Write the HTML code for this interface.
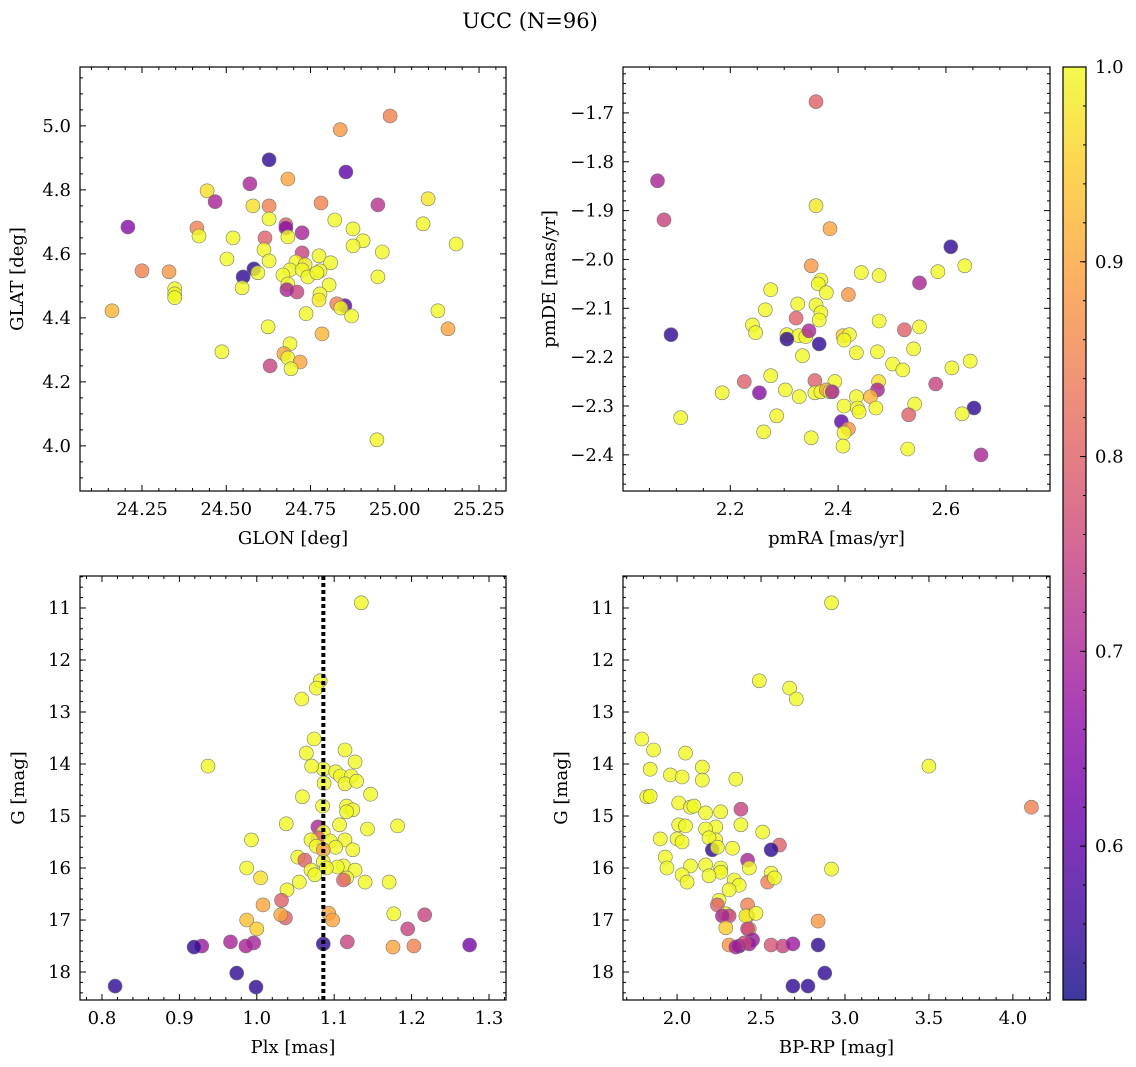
<!DOCTYPE html>
<html><head><meta charset="utf-8"><title>UCC (N=96)</title>
<style>html,body{margin:0;padding:0;background:#fff}svg{display:block;font-family:"DejaVu Serif","Liberation Serif",serif}</style>
</head><body>
<svg id="fig" width="1136" height="1067" viewBox="0 0 1136 1067" xmlns="http://www.w3.org/2000/svg">
<text x="530" y="28" text-anchor="middle" font-size="21">UCC (N=96)</text>
</svg>
<script>
// Panel 1: GLON vs GLAT
const p1X=[24.986,24.838,24.627,24.855,24.683,24.570,24.443,24.467,24.950,25.099,24.781,24.579,24.627,24.677,24.627,24.822,25.084,24.208,24.413,24.677,24.876,24.419,24.725,24.683,24.520,24.906,24.876,25.182,24.615,24.725,24.963,24.612,24.502,24.627,24.775,24.810,24.707,24.734,24.582,24.25,24.330,24.594,24.689,24.725,24.778,24.668,24.742,24.769,24.550,24.950,24.683,24.805,24.547,24.347,24.347,24.710,24.778,24.347,24.680,24.775,24.852,24.828,24.840,24.872,24.737,24.161,25.128,25.158,24.624,24.784,24.689,24.487,24.671,24.683,24.719,24.630,24.692,24.947];
const p1Y=[5.031,4.988,4.894,4.856,4.834,4.819,4.797,4.763,4.753,4.772,4.759,4.750,4.750,4.691,4.709,4.706,4.694,4.684,4.681,4.681,4.678,4.656,4.666,4.653,4.650,4.641,4.625,4.631,4.650,4.603,4.606,4.613,4.584,4.578,4.594,4.572,4.575,4.566,4.553,4.547,4.544,4.541,4.550,4.550,4.547,4.534,4.528,4.541,4.528,4.528,4.506,4.503,4.494,4.491,4.475,4.481,4.475,4.463,4.488,4.456,4.438,4.444,4.431,4.406,4.413,4.422,4.422,4.366,4.372,4.350,4.319,4.294,4.288,4.275,4.262,4.250,4.241,4.019];
const p1C=[0.85,0.88,0.55,0.6,0.9,0.7,0.97,0.7,0.72,0.98,0.85,0.97,0.85,0.8,1,1,1,0.65,0.85,0.65,1,1,0.7,1,1,1,1,1,0.8,0.75,1,1,1,1,1,1,1,0.98,0.55,0.85,0.88,1,1,1,1,1,1,1,0.55,1,1,1,1,1,1,0.75,1,1,0.7,0.98,0.6,0.85,1,1,1,0.92,1,0.9,1,0.92,1,1,0.9,1,0.9,0.75,1,1];
// Panel 2: pmRA vs pmDE
const p2X=[2.359,2.065,2.077,2.359,2.385,2.609,2.350,2.635,2.585,2.443,2.476,2.368,2.551,2.363,2.378,2.419,2.275,2.325,2.359,2.265,2.368,2.322,2.365,2.476,2.090,2.241,2.247,2.551,2.305,2.327,2.340,2.409,2.421,2.346,2.523,2.305,2.365,2.411,2.540,2.334,2.434,2.473,2.501,2.520,2.645,2.611,2.275,2.394,2.226,2.357,2.475,2.581,2.302,2.473,2.357,2.368,2.378,2.385,2.389,2.254,2.185,2.328,2.434,2.460,2.542,2.652,2.411,2.436,2.470,2.531,2.439,2.286,2.630,2.108,2.406,2.419,2.262,2.411,2.350,2.409,2.529,2.665];
const p2Y=[-1.677,-1.839,-1.919,-1.890,-1.937,-1.974,-2.013,-2.013,-2.025,-2.027,-2.033,-2.042,-2.048,-2.050,-2.068,-2.072,-2.062,-2.091,-2.093,-2.103,-2.109,-2.120,-2.124,-2.126,-2.154,-2.134,-2.150,-2.138,-2.154,-2.156,-2.158,-2.156,-2.154,-2.146,-2.144,-2.163,-2.173,-2.165,-2.183,-2.197,-2.191,-2.189,-2.214,-2.226,-2.208,-2.222,-2.238,-2.250,-2.250,-2.248,-2.250,-2.255,-2.267,-2.267,-2.273,-2.271,-2.267,-2.271,-2.271,-2.273,-2.273,-2.281,-2.281,-2.281,-2.296,-2.304,-2.300,-2.304,-2.304,-2.318,-2.312,-2.320,-2.316,-2.324,-2.332,-2.347,-2.353,-2.355,-2.365,-2.382,-2.388,-2.400];
const p2C=[0.8,0.7,0.75,0.98,0.9,0.55,0.88,1,1,1,1,1,0.7,1,1,0.88,1,1,1,1,1,0.8,1,1,0.55,1,1,1,1,1,1,0.95,1,0.7,0.8,0.55,0.55,1,1,1,1,1,1,1,1,1,1,1,0.8,0.8,0.97,0.75,1,0.7,1,1,0.9,1,0.7,0.65,1,1,1,0.92,1,0.55,1,1,1,0.8,1,1,1,1,0.6,0.88,1,1,1,1,1,0.7];
// Panel 3: Plx vs G
const p3X=[1.135,1.082,1.077,1.058,1.074,0.937,1.114,1.064,1.127,1.086,1.102,1.071,1.108,1.122,1.114,1.087,1.129,1.147,1.059,1.116,1.085,1.124,1.116,1.038,1.182,1.143,1.079,1.107,1.086,0.993,1.079,1.070,1.095,1.114,1.077,1.102,1.086,1.124,1.053,1.062,1.086,1.112,0.987,1.070,1.104,1.090,1.127,1.075,1.116,1.005,1.112,1.140,1.055,1.171,1.039,1.008,1.032,1.037,1.031,1.093,1.098,0.987,1.177,1.217,1.000,1.195,0.996,0.966,1.117,0.986,0.929,0.919,1.086,1.176,1.203,1.275,0.974,0.817,0.999];
const p3Y=[10.90,12.40,12.54,12.75,13.52,14.04,13.73,13.79,13.96,14.10,14.15,14.04,14.23,14.23,14.38,14.37,14.33,14.58,14.63,14.81,14.81,14.88,14.92,15.15,15.19,15.25,15.21,15.17,15.31,15.46,15.42,15.46,15.48,15.46,15.58,15.60,15.65,15.65,15.79,15.85,15.88,15.96,16.00,16.04,15.98,16.00,16.04,16.13,16.19,16.19,16.23,16.27,16.27,16.27,16.42,16.71,16.62,16.96,16.90,16.87,17.00,17.00,16.88,16.90,17.17,17.17,17.44,17.42,17.42,17.50,17.50,17.52,17.46,17.52,17.50,17.48,18.02,18.27,18.29];
const p3C=[1,1,1,1,1,1,1,1,1,1,1,1,1,1,1,1,1,1,1,1,1,1,1,1,1,1,0.7,1,1,1,0.8,1,1,1,1,1,0.9,1,1,0.8,1,1,1,1,1,1,1,1,1,0.97,0.8,1,1,1,1,0.9,0.8,0.8,0.9,0.9,0.9,0.93,1,0.75,0.95,0.75,0.7,0.7,0.75,0.7,0.68,0.55,0.55,0.9,0.85,0.63,0.55,0.55,0.55];
const plxRef=[1.086];
// Panel 4: BP-RP vs G
const p4X=[2.92,2.49,2.67,2.71,1.79,1.86,2.05,3.50,1.84,2.15,1.96,2.03,2.15,2.35,1.82,1.84,2.01,2.08,2.10,2.38,4.11,2.26,2.17,2.01,2.05,2.23,2.17,2.38,2.51,1.90,2.00,2.23,2.19,2.03,2.61,2.21,2.24,2.33,2.56,1.93,2.42,2.08,1.94,2.92,2.26,2.17,2.43,2.26,2.19,2.03,2.56,2.34,2.06,2.37,2.54,2.58,2.31,2.25,2.24,2.42,2.42,2.29,2.41,2.47,2.31,2.27,2.84,2.29,2.43,2.42,2.45,2.43,2.31,2.37,2.40,2.56,2.63,2.69,2.84,2.35,2.88,2.69,2.78];
const p4Y=[10.90,12.40,12.54,12.75,13.52,13.73,13.79,14.04,14.10,14.06,14.21,14.25,14.31,14.29,14.63,14.62,14.75,14.83,14.81,14.87,14.83,14.92,14.94,15.17,15.19,15.21,15.25,15.17,15.31,15.44,15.44,15.46,15.42,15.50,15.56,15.65,15.60,15.62,15.65,15.79,15.85,15.96,16.00,16.02,16.00,15.94,16.00,16.08,16.15,16.13,16.10,16.23,16.27,16.33,16.27,16.19,16.42,16.62,16.71,16.71,16.92,16.88,16.92,16.87,16.92,16.92,17.02,17.15,17.17,17.17,17.38,17.46,17.48,17.50,17.44,17.48,17.50,17.46,17.48,17.52,18.02,18.27,18.27];
const p4C=[1,1,1,1,1,1,1,1,1,1,1,1,1,1,1,1,1,1,1,0.75,0.85,1,1,1,1,1,1,1,1,1,1,1,1,1,0.8,0.55,1,1,0.55,1,0.7,1,1,1,1,1,1,1,1,1,1,1,1,1,0.85,1,1,1,0.8,0.85,0.85,1,1,1,0.75,0.7,0.88,0.95,0.9,0.75,0.68,0.68,0.88,0.55,0.75,0.78,0.75,0.68,0.55,0.7,0.55,0.55,0.55];
const cbTicks=[0.6,0.7,0.8,0.9,1.0];

const NS="http://www.w3.org/2000/svg";
const svg=document.getElementById('fig');
function mk(tag,attrs,parent){const e=document.createElementNS(NS,tag);for(const k in attrs)e.setAttribute(k,attrs[k]);(parent||svg).appendChild(e);return e;}
const plasma=[[13,8,135],[65,4,157],[106,0,168],[143,13,164],[177,42,144],[204,71,120],[225,100,98],[242,132,75],[252,166,54],[252,206,37],[240,249,33]];
const CMIN=0.521,CMAX=1.0;
function cmap(v){let t=(v-CMIN)/(CMAX-CMIN);t=Math.max(0,Math.min(1,t));const f=t*10,i=Math.min(9,Math.floor(f)),r=f-i;const a=plasma[i],b=plasma[i+1];return `rgb(${Math.round(a[0]+(b[0]-a[0])*r)},${Math.round(a[1]+(b[1]-a[1])*r)},${Math.round(a[2]+(b[2]-a[2])*r)})`;}
const TF=18,LF=18;
function panel(cfg){
  const g=mk('g',{});
  
  
  const sx=v=>cfg.L+(v-cfg.x0)/(cfg.x1-cfg.x0)*(cfg.R-cfg.L);
  const sy=v=>cfg.B-(v-cfg.y0)/(cfg.y1-cfg.y0)*(cfg.B-cfg.T);
  const pts=mk('g',{},g);
  
  
  for(let i=0;i<cfg.xs.length;i++){
    const c=mk('circle',{cx:sx(cfg.xs[i]).toFixed(1),cy:sy(cfg.ys[i]).toFixed(1),r:7,fill:cmap(cfg.cs[i]),'fill-opacity':0.8,stroke:'#777','stroke-width':0.6},pts);
    
    
  }
  if(cfg.vline){const x=sx(cfg.vline[0]);const l=mk('line',{x1:x,x2:x,y1:cfg.T,y2:cfg.B,stroke:'#000','stroke-width':4,'stroke-dasharray':'4,3'},g);
    
    }
  const fr=mk('rect',{x:cfg.L,y:cfg.T,width:cfg.R-cfg.L,height:cfg.B-cfg.T,fill:'none',stroke:'#000','stroke-width':1.2},g);
  
  
  const tk=mk('g',{stroke:'#000','stroke-width':1},g);
  const lo=Math.min(cfg.x0,cfg.x1),hi=Math.max(cfg.x0,cfg.x1);
  for(let k=Math.ceil(lo/cfg.xmin-1e-6);k*cfg.xmin<=hi+1e-9;k++){const v=k*cfg.xmin,x=sx(v);const maj=Math.abs(v/cfg.xmaj-Math.round(v/cfg.xmaj))<1e-6;const len=maj?6:3;
    mk('line',{x1:x,x2:x,y1:cfg.B,y2:cfg.B-len},tk);mk('line',{x1:x,x2:x,y1:cfg.T,y2:cfg.T+len},tk);
    if(maj){const t=mk('text',{x:x,y:cfg.B+24,'text-anchor':'middle','font-size':TF},g);t.textContent=v.toFixed(cfg.xd);
      
      }}
  const ylo=Math.min(cfg.y0,cfg.y1),yhi=Math.max(cfg.y0,cfg.y1);
  for(let k=Math.ceil(ylo/cfg.ymin-1e-6);k*cfg.ymin<=yhi+1e-9;k++){const v=k*cfg.ymin,y=sy(v);const maj=Math.abs(v/cfg.ymaj-Math.round(v/cfg.ymaj))<1e-6;const len=maj?6:3;
    mk('line',{x1:cfg.L,x2:cfg.L+len,y1:y,y2:y},tk);mk('line',{x1:cfg.R,x2:cfg.R-len,y1:y,y2:y},tk);
    if(maj){const t=mk('text',{x:cfg.L-9,y:y+6,'text-anchor':'end','font-size':TF},g);t.textContent=(v<0?'\u2212':'')+Math.abs(v).toFixed(cfg.yd);
      
      }}
  const xl=mk('text',{x:(cfg.L+cfg.R)/2,y:cfg.B+53,'text-anchor':'middle','font-size':LF},g);xl.textContent=cfg.xlab;
  
  
  const yx=cfg.L-cfg.ylabOff,yy=(cfg.T+cfg.B)/2;
  const yl=mk('text',{x:yx,y:yy,'text-anchor':'middle','font-size':LF,transform:`rotate(-90 ${yx} ${yy})`},g);yl.textContent=cfg.ylab;
  
  
}
panel({name:'panel-glon-glat',L:80,R:506,T:67,B:491,x0:24.066,x1:25.330,y0:3.859,y1:5.184,xmaj:0.25,xmin:0.05,ymaj:0.2,ymin:0.05,xd:2,yd:1,xs:p1X,ys:p1Y,cs:p1C,xlab:'GLON [deg]',ylab:'GLAT [deg]',ylabOff:57});
panel({name:'panel-pmra-pmde',L:623,R:1050,T:67,B:491,x0:2.001,x1:2.793,y0:-2.474,y1:-1.606,xmaj:0.2,xmin:0.05,ymaj:0.1,ymin:0.02,xd:1,yd:1,xs:p2X,ys:p2Y,cs:p2C,xlab:'pmRA [mas/yr]',ylab:'pmDE [mas/yr]',ylabOff:68});
panel({name:'panel-plx-g',L:80,R:506,T:576,B:1000,x0:0.7716,x1:1.322,y0:18.538,y1:10.385,xmaj:0.1,xmin:0.02,ymaj:1,ymin:0.2,xd:1,yd:0,xs:p3X,ys:p3Y,cs:p3C,xlab:'Plx [mas]',ylab:'G [mag]',ylabOff:56,vline:plxRef});
panel({name:'panel-bprp-g',L:623,R:1050,T:576,B:1000,x0:1.678,x1:4.221,y0:18.538,y1:10.385,xmaj:0.5,xmin:0.1,ymaj:1,ymin:0.2,xd:1,yd:0,xs:p4X,ys:p4Y,cs:p4C,xlab:'BP-RP [mag]',ylab:'G [mag]',ylabOff:56});
// colorbar
const cb=mk('g',{});


const defs=mk('defs',{},cb);const lg=mk('linearGradient',{id:'pl',x1:0,y1:1,x2:0,y2:0},defs);
plasma.forEach((c,i)=>mk('stop',{offset:i/10,'stop-color':`rgb(${c})`,'stop-opacity':0.8},lg));
const CBL=1063,CBR=1086,CBT=67,CBB=1000;
mk('rect',{x:CBL,y:CBT,width:CBR-CBL,height:CBB-CBT,fill:'url(#pl)',stroke:'#000','stroke-width':1.2},cb);
const cy=v=>CBB-(v-CMIN)/(CMAX-CMIN)*(CBB-CBT);
for(let k=Math.ceil(CMIN/0.02);k*0.02<=CMAX+1e-9;k++){const y=cy(k*0.02);mk('line',{x1:CBR,x2:CBR-3,y1:y,y2:y,stroke:'#000'},cb);}
cbTicks.forEach(v=>{const y=cy(v);mk('line',{x1:CBR,x2:CBR-6,y1:y,y2:y,stroke:'#000'},cb);const t=mk('text',{x:CBR+9,y:y+6,'font-size':TF},cb);t.textContent=v.toFixed(1);
  
  });
</script>
</body></html>
